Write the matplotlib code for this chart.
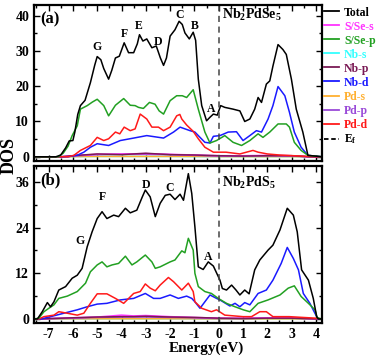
import matplotlib
matplotlib.use("Agg")
import matplotlib.pyplot as plt
from matplotlib.lines import Line2D
import numpy as np

plt.rcParams['font.family'] = ['Liberation Serif', 'DejaVu Serif']
plt.rcParams['font.weight'] = 'bold'
plt.rcParams['mathtext.fontset'] = 'custom'
plt.rcParams['mathtext.rm'] = 'Liberation Serif:bold'
plt.rcParams['mathtext.default'] = 'rm'

# ---------------- Panel (a) Nb2PdSe5 ----------------
a_tot_E = [-7.6, -6.7, -6.5, -6.3, -6.15, -6.0, -5.92, -5.8, -5.69, -5.5, -5.28, -5.1, -5.0, -4.85, -4.73, -4.53,
           -4.4, -4.25, -4.09, -3.89, -3.71, -3.5, -3.35, -3.26, -3.12, -2.96, -2.75, -2.57, -2.4, -2.27, -2.15,
           -2.0, -1.8, -1.63, -1.5, -1.39, -1.21, -1.05, -0.95, -0.84, -0.7, -0.5, -0.36, -0.22, -0.06, 0.08,
           0.25, 0.59, 0.87, 1.07, 1.28, 1.48, 1.62, 1.76, 1.96, 2.1, 2.23, 2.44, 2.64, 2.78, 2.99, 3.19, 3.46,
           3.67, 4.25]
a_tot = [0, 0, 0.5, 2.5, 4.5, 4.6, 7, 12, 14.5, 16, 21, 26, 28.4, 27.5, 25, 22,
         24.5, 28, 28.5, 32.3, 29.5, 29.5, 32, 34.6, 32.8, 33.4, 30.9, 31.4, 28, 25.9, 28,
         34.2, 36, 38.4, 37.5, 35.1, 33.4, 35.3, 33, 22, 14.5, 10.2, 11.2, 12.1, 11.8, 14.5,
         14, 13.5, 13, 10, 10.7, 13.5, 16.8, 15.4, 20.6, 21.5, 25.7, 31.8, 30.4, 29, 22, 13.5, 7,
         0.4, 0]

a_sp_E = [-7.6, -6.6, -6.4, -6.2, -6.03, -5.82, -5.69, -5.41, -5.2, -5.0, -4.73, -4.53, -4.25, -3.91, -3.64,
          -3.44, -3.3, -3.1, -2.85, -2.62, -2.45, -2.27, -2.0, -1.73, -1.5, -1.32, -1.05, -0.84, -0.57, -0.36,
          -0.09, 0.25, 0.59, 0.94, 1.28, 1.62, 1.82, 2.1, 2.44, 2.78, 2.91, 3.11, 3.39, 3.67, 4.25]
a_sp = [0, 0, 1, 3, 6, 8.8, 13.5, 14.5, 15.5, 16.3, 14.5, 11.6, 14.6, 16.5, 14.6,
        14.5, 14, 13.7, 15.4, 14.9, 13, 12.1, 15.9, 17.3, 17.3, 16.8, 19, 13.5, 7, 3.9,
        4.6, 6, 4.1, 3.2, 4.6, 6.5, 5.5, 7, 9.3, 9.3, 8.4, 4.1, 1.8, 0.4, 0]

a_pdd_E = [-7.6, -6.2, -5.96, -5.69, -5.28, -5.0, -4.73, -4.53, -4.25, -4.07, -3.89, -3.64, -3.44, -3.23,
           -2.96, -2.75, -2.48, -2.27, -2.0, -1.73, -1.6, -1.52, -1.32, -1.05, -0.84, -0.57, -0.22, 0.3, 0.87,
           1.41, 1.62, 2.0, 2.5, 3.67, 4.25]
a_pdd = [0, 0, 0.4, 1.8, 3.2, 5.5, 4.6, 5.1, 7, 6.5, 8.4, 7.4, 7.9, 12.1,
         10.7, 8.4, 8.4, 7.4, 8.4, 11.6, 12, 10.7, 9, 7.2, 5.1, 2.7, 1.3, 1.3, 0.8,
         1.8, 1.3, 0.8, 0.5, 0.1, 0]

a_nbd_E = [-7.6, -6.2, -5.8, -5.55, -5.28, -5.0, -4.53, -4.05, -3.5, -2.96, -2.27, -1.86, -1.59, -1.18,
           -0.98, -0.77, -0.57, -0.36, -0.22, 0.05, 0.39, 0.73, 1.0, 1.28, 1.55, 1.76, 2.03, 2.23, 2.44, 2.72,
           2.91, 3.11, 3.39, 3.67, 4.25]
a_nbd = [0, 0, 0.5, 1.3, 2.7, 3.7, 3.2, 4.6, 5.3, 6.0, 5.3, 7, 8.4, 7.4,
         7, 5.5, 4.1, 3.9, 5.8, 6, 7, 7.1, 4.6, 6, 7.4, 7, 10.7, 14.5, 19.9, 17.3,
         12.6, 7, 2.7, 0.4, 0]

a_small_E = [-7.6, -6.5, -6.0, -5.0, -4.0, -3.0, -2.0, -1.0, 0.0, 1.0, 2.0, 3.0, 3.7, 4.25]
a_ss = [0, 0, 0.3, 0.7, 0.8, 0.9, 0.7, 0.5, 0.3, 0.3, 0.4, 0.3, 0, 0]
a_nbp = [0, 0, 0.3, 0.8, 0.6, 1.0, 0.6, 0.5, 0.3, 0.2, 0.3, 0.3, 0, 0]
a_pdp = [0, 0, 0.2, 0.6, 0.7, 0.7, 0.6, 0.4, 0.2, 0.2, 0.3, 0.2, 0, 0]
a_pds = [0, 0, 0.05, 0.1, 0.1, 0.1, 0.1, 0.1, 0.05, 0.05, 0.05, 0.05, 0, 0]
a_nbs = [0, 0, 0.05, 0.1, 0.1, 0.1, 0.1, 0.05, 0.05, 0.05, 0.05, 0.05, 0, 0]

# ---------------- Panel (b) Nb2PdS5 ----------------
b_tot_E = [-7.6, -7.46, -7.26, -7.05, -6.92, -6.78, -6.58, -6.3, -6.03, -5.82, -5.62, -5.41, -5.21, -5.0,
           -4.8, -4.6, -4.32, -4.12, -3.84, -3.64, -3.37, -3.15, -3.02, -2.82, -2.61, -2.41, -2.2, -2.0, -1.8,
           -1.59, -1.45, -1.25, -1.11, -0.98, -0.84, -0.64, -0.43, -0.22, 0.05, 0.15, 0.32, 0.53, 0.71, 0.87,
           1.07, 1.25, 1.48, 1.69, 2.03, 2.23, 2.52, 2.82, 3.07, 3.23, 3.41, 3.69, 3.89, 4.03, 4.1, 4.25]
b_tot = [0, 0, 1.9, 4.3, 3.2, 4.5, 7.6, 8.5, 10.7, 11.5, 13.3, 19, 22.9, 26.4,
         28.2, 26.4, 27.3, 26.9, 29.1, 27.9, 28.6, 32, 33.9, 32.1, 26.9, 30.4, 32.5, 32.8, 31.4,
         32.8, 31.2, 38.2, 33, 24.2, 13.7, 13, 15, 13.9, 10.2, 8, 7.6, 8.9, 7.6, 6.3,
         7.6, 6.6, 12.9, 15.5, 18.1, 19.4, 23.4, 29.1, 27.3, 22.9, 12.9, 10.2, 5.4, 0.6, 0, 0]

b_sp_E = [-7.6, -7.4, -7.19, -6.99, -6.78, -6.58, -6.23, -5.82, -5.48, -5.28, -5.0, -4.8, -4.6, -4.39,
          -4.12, -3.84, -3.57, -3.37, -3.02, -2.75, -2.61, -2.41, -2.0, -1.8, -1.52, -1.39, -1.25, -1.05,
          -0.98, -0.84, -0.57, -0.3, -0.02, 0.32, 0.67, 1.01, 1.28, 1.62, 2.03, 2.52, 2.86, 3.11, 3.39, 3.69,
          3.96, 4.05, 4.25]
b_sp = [0, 0.2, 1.9, 2.8, 3.7, 5.4, 6.0, 7.2, 9.4, 12.4, 14.2, 15.0, 13.7, 14.2,
        14.6, 16.5, 14.2, 15.0, 16.8, 15.0, 13.3, 13.7, 15.0, 15.5, 17.9, 17.4, 21.2, 18.1,
        12, 8.5, 7.2, 6.7, 5.4, 4.1, 3.2, 2.4, 1.9, 4.1, 5.0, 6.3, 8.1, 8.7, 5.9, 4.1,
        2.4, 0.3, 0]

b_pdd_E = [-7.6, -7.4, -7.19, -6.78, -6.58, -6.23, -5.82, -5.55, -5.28, -5.0, -4.6, -4.25, -3.91, -3.5,
           -3.23, -3.02, -2.82, -2.61, -2.41, -2.07, -1.86, -1.52, -1.25, -1.05, -0.98, -0.7, -0.3, -0.09,
           0.25, 1.0, 1.35, 1.69, 1.96, 2.23, 2.9, 4.0, 4.25]
b_pdd = [0, 0, 0.6, 1.0, 1.9, 1.5, 1.0, 1.5, 4.1, 6.6, 6.6, 5.4, 4.1, 6.7,
         7.2, 9.2, 8.1, 7.4, 8.9, 10.9, 9.8, 7.6, 9.4, 7.2, 4.5, 2.8, 1.9, 2.4,
         1.0, 0.6, 0.6, 1.9, 1.9, 0.6, 0.6, 0.2, 0]

b_nbd_E = [-7.6, -7.3, -6.92, -6.37, -5.82, -5.41, -5.0, -4.6, -4.05, -3.5, -3.02, -2.68, -2.41, -2.0,
           -1.66, -1.32, -1.11, -0.98, -0.77, -0.36, -0.09, 0.05, 0.46, 0.67, 0.87, 1.07, 1.28, 1.62, 1.96,
           2.23, 2.57, 2.82, 3.07, 3.28, 3.48, 3.75, 4.03, 4.1, 4.25]
b_nbd = [0, 0, 0.6, 1.5, 2.4, 3.2, 3.9, 4.1, 5.0, 5.4, 6.7, 5.4, 5.4, 6.3,
         5.4, 6.0, 5.4, 4.5, 2.8, 6.3, 5.4, 5.0, 3.4, 4.1, 3.2, 4.3, 3.7, 6.7, 7.6,
         10.2, 14.6, 18.8, 15.9, 12.9, 6.7, 4.1, 0.6, 0, 0]

b_small_E = [-7.6, -7.4, -6.0, -5.0, -4.0, -3.5, -3.0, -2.0, -1.0, 0.0, 1.0, 2.0, 3.0, 4.05, 4.25]
b_ss = [0, 0, 0.3, 0.5, 1.0, 0.8, 0.9, 0.6, 0.4, 0.2, 0.2, 0.3, 0.3, 0, 0]
b_nbp = [0, 0, 0.3, 0.5, 0.6, 0.6, 0.7, 0.5, 0.4, 0.2, 0.1, 0.2, 0.2, 0, 0]
b_pdp = [0, 0, 0.2, 0.4, 0.5, 0.5, 0.5, 0.4, 0.3, 0.1, 0.1, 0.2, 0.2, 0, 0]
b_pds = [0, 0, 0.05, 0.05, 0.05, 0.05, 0.05, 0.05, 0.05, 0.02, 0.02, 0.02, 0.02, 0, 0]
b_nbs = [0, 0, 0.05, 0.05, 0.05, 0.05, 0.05, 0.05, 0.05, 0.02, 0.02, 0.02, 0.02, 0, 0]

labels = ['Total', 'S/Se-s', 'S/Se-p', 'Nb-s', 'Nb-p', 'Nb-d', 'Pd-s', 'Pd-p', 'Pd-d']
colors = ['#000000', '#ff33ff', '#22a022', '#33ffff', '#7a1a55', '#1a1aff', '#ffb030', '#9a4ad8', '#ff1a1a']

a_peaks = ['G', 'F', 'E', 'D', 'C', 'B', 'A']
a_peak_E = [-5.0, -3.9, -3.3, -2.5, -1.62, -1.0, -0.3]
a_peak_y = [31.0, 34.8, 37.0, 32.5, 40.3, 37.0, 13.5]
b_peaks = ['G', 'F', 'D', 'C', 'A']
b_peak_E = [-5.7, -4.78, -3.0, -2.0, -0.45]
b_peak_y = [20.5, 32.0, 35.2, 34.5, 16.3]

y_ticks_a = [0, 10, 20, 30, 40]
y_ticks_b = [0, 12, 24, 36]
x_ticks = list(range(-7, 5))

fig = plt.figure(figsize=(3.82, 3.61), dpi=100)
axA = fig.add_axes([0.089, 0.554, 0.754, 0.432])
axB = fig.add_axes([0.089, 0.106, 0.754, 0.434])

def draw(ax, E_tot, tot, E_sp, sp, E_pdd, pdd, E_nbd, nbd, E_sm, ss, nbp, pdp, pds, nbs):
    lw = 1.1
    ax.plot(E_sm, nbs, color=colors[3], lw=lw)
    ax.plot(E_sm, pds, color=colors[6], lw=lw)
    ax.plot(E_sm, pdp, color=colors[7], lw=lw)
    ax.plot(E_sm, ss, color=colors[1], lw=lw)
    ax.plot(E_sm, nbp, color=colors[4], lw=lw)
    ax.plot(E_nbd, nbd, color=colors[5], lw=lw)
    ax.plot(E_pdd, pdd, color=colors[8], lw=lw)
    ax.plot(E_sp, sp, color=colors[2], lw=lw)
    ax.plot(E_tot, tot, color=colors[0], lw=lw)
    ax.axvline(0, color='#444444', ls=(0, (4, 3)), lw=1.1)

draw(axA, a_tot_E, a_tot, a_sp_E, a_sp, a_pdd_E, a_pdd, a_nbd_E, a_nbd, a_small_E,
     a_ss, a_nbp, a_pdp, a_pds, a_nbs)
draw(axB, b_tot_E, b_tot, b_sp_E, b_sp, b_pdd_E, b_pdd, b_nbd_E, b_nbd, b_small_E,
     b_ss, b_nbp, b_pdp, b_pds, b_nbs)

for ax in (axA, axB):
    ax.set_xlim(-7.6, 4.25)
    ax.set_xticks(x_ticks)
    ax.set_xticks(np.arange(-7.5, 4.5, 0.5), minor=True)
    ax.tick_params(which='both', direction='in', top=True, right=True, width=1.0)
    ax.tick_params(which='major', length=4, labelsize=10)
    ax.tick_params(which='minor', length=2.5)
    for s in ax.spines.values():
        s.set_linewidth(1.6)

axA.set_ylim(-1.2, 43)
axA.set_yticks(y_ticks_a)
axA.set_yticks(np.arange(5, 45, 10), minor=True)
axA.set_yticklabels([str(v) for v in y_ticks_a], fontweight='bold')
axA.tick_params(axis='x', labelbottom=False)
axB.set_ylim(-1.0, 40.2)
axB.set_yticks(y_ticks_b)
axB.set_yticks([6, 18, 30], minor=True)
axB.set_yticklabels([str(v) for v in y_ticks_b], fontweight='bold')
axB.set_xticklabels([str(v) for v in x_ticks], fontweight='bold')

axA.text(-7.35, 37.8, '(a)', fontsize=12, fontweight='bold')
axB.text(-7.35, 35.3, '(b)', fontsize=12, fontweight='bold')
axA.text(0.15, 40.3, r'Nb$_2$PdSe$_5$', fontsize=10, fontweight='bold', va='center')
axB.text(0.15, 35.8, r'Nb$_2$PdS$_5$', fontsize=10, fontweight='bold', va='center')

for s, x, y in zip(a_peaks, a_peak_E, a_peak_y):
    axA.text(x, y, s, fontsize=8.5, fontweight='bold', ha='center', va='center')
for s, x, y in zip(b_peaks, b_peak_E, b_peak_y):
    axB.text(x, y, s, fontsize=8.5, fontweight='bold', ha='center', va='center')

fig.text(0.024, 0.568, 'DOS', rotation=90, fontsize=13, fontweight='bold', ha='center', va='center')
fig.text(0.54, 0.036, 'Energy(eV)', fontsize=11, fontweight='bold', ha='center', va='center')

handles = [Line2D([], [], color=c, lw=1.3) for c in colors]
handles.append(Line2D([], [], color='k', lw=1.3, ls=(0, (2.5, 1.5))))
leg_labels = labels + [r'E$_{\rm f}$']
leg = fig.legend(handles, leg_labels, loc='upper left', bbox_to_anchor=(0.845, 0.985),
                 frameon=False, handlelength=1.3, handletextpad=0.4,
                 labelspacing=0.17, borderaxespad=0, borderpad=0.1,
                 prop={'weight': 'bold', 'size': 8.5})
for txt, c in zip(leg.get_texts(), colors + ['#000000']):
    txt.set_color(c)

fig.savefig('out.png', dpi=100)
